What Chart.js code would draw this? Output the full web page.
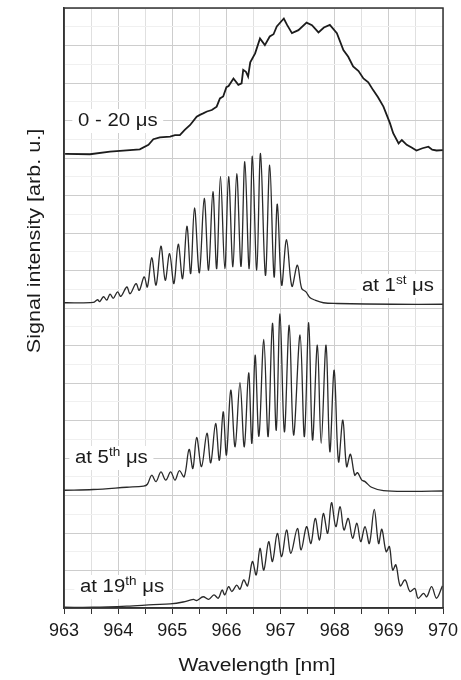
<!DOCTYPE html>
<html>
<head>
<meta charset="utf-8">
<script src="https://cdn.jsdelivr.net/npm/chart.js@4.4.1/dist/chart.umd.min.js"></script>
<style>
  html, body { margin: 0; padding: 0; background: #fff; }
  canvas { display: block; }
</style>
</head>
<body>
<canvas id="spectra" width="461" height="680"></canvas>
<script>
// wavelength [nm] and intensity [arb. u.], one pair of arrays per trace
const wl1 = [963.02, 963.48, 963.85, 964.40, 964.56, 964.65, 964.77, 964.96, 965.05, 965.14, 965.23, 965.33, 965.45, 965.51, 965.57, 965.64, 965.73, 965.82, 965.88, 965.94, 966.00, 966.04, 966.13, 966.22, 966.28, 966.31, 966.36, 966.40, 966.44, 966.53, 966.62, 966.71, 966.80, 966.87, 966.93, 967.06, 967.12, 967.21, 967.33, 967.48, 967.58, 967.70, 967.80, 967.91, 968.04, 968.16, 968.25, 968.34, 968.44, 968.53, 968.62, 968.71, 968.80, 968.90, 969.02, 969.08, 969.18, 969.24, 969.33, 969.42, 969.51, 969.62, 969.73, 969.80, 969.88, 970.00];
const int1 = [0.01, 0.00, 0.07, 0.13, 0.25, 0.40, 0.45, 0.47, 0.51, 0.51, 0.65, 0.78, 1.00, 1.05, 1.09, 1.14, 1.18, 1.27, 1.49, 1.54, 1.79, 1.82, 2.02, 1.85, 1.89, 2.25, 2.20, 2.07, 2.45, 2.69, 3.09, 2.91, 3.14, 3.20, 3.41, 3.62, 3.45, 3.23, 3.31, 3.51, 3.44, 3.25, 3.38, 3.45, 3.23, 2.78, 2.60, 2.34, 2.22, 2.02, 1.92, 1.71, 1.52, 1.27, 0.83, 0.56, 0.29, 0.38, 0.25, 0.18, 0.10, 0.16, 0.20, 0.12, 0.10, 0.11];

const wl2 = [963.00, 963.54, 963.62, 963.66, 963.73, 963.79, 963.85, 963.91, 963.99, 964.05, 964.16, 964.22, 964.33, 964.39, 964.48, 964.54, 964.62, 964.70, 964.79, 964.87, 964.95, 965.03, 965.11, 965.19, 965.27, 965.34, 965.41, 965.50, 965.59, 965.67, 965.75, 965.82, 965.89, 965.97, 966.04, 966.12, 966.19, 966.27, 966.34, 966.42, 966.48, 966.56, 966.63, 966.72, 966.80, 966.88, 966.94, 967.02, 967.11, 967.21, 967.31, 967.39, 967.47, 967.54, 967.62, 967.79, 968.04, 969.08, 970.00];
const int2 = [0.04, 0.05, 0.12, 0.07, 0.20, 0.11, 0.27, 0.16, 0.33, 0.21, 0.46, 0.28, 0.55, 0.37, 0.73, 0.46, 1.24, 0.51, 1.55, 0.64, 1.35, 0.55, 1.60, 0.68, 2.08, 0.82, 2.57, 0.84, 2.82, 0.91, 3.00, 0.95, 3.41, 0.95, 3.40, 1.00, 3.48, 1.01, 3.80, 0.95, 3.95, 0.91, 4.02, 0.77, 3.71, 0.73, 2.67, 0.51, 1.72, 0.48, 1.04, 0.42, 0.33, 0.18, 0.12, 0.04, 0.02, 0.00, 0.00];

const wl3 = [963.00, 963.54, 964.16, 964.47, 964.54, 964.62, 964.70, 964.79, 964.88, 964.97, 965.05, 965.13, 965.22, 965.31, 965.38, 965.45, 965.54, 965.64, 965.71, 965.80, 965.87, 965.94, 966.00, 966.08, 966.16, 966.25, 966.33, 966.41, 966.47, 966.53, 966.60, 966.69, 966.77, 966.85, 966.92, 966.99, 967.07, 967.16, 967.24, 967.36, 967.44, 967.52, 967.59, 967.68, 967.75, 967.84, 967.91, 967.99, 968.07, 968.15, 968.22, 968.29, 968.37, 968.42, 968.50, 968.56, 968.68, 968.90, 969.39, 970.00];
const int3 = [0.04, 0.06, 0.12, 0.15, 0.20, 0.44, 0.27, 0.53, 0.31, 0.53, 0.31, 0.56, 0.40, 1.13, 0.62, 1.45, 0.67, 1.56, 0.77, 1.82, 0.84, 2.13, 0.98, 2.71, 1.20, 2.91, 1.20, 3.17, 1.29, 3.64, 1.48, 4.06, 1.47, 4.49, 1.64, 4.74, 1.60, 4.44, 1.51, 4.18, 1.47, 4.51, 1.38, 3.91, 1.29, 3.91, 1.07, 3.24, 0.80, 1.91, 0.67, 1.00, 0.44, 0.51, 0.31, 0.27, 0.12, 0.03, 0.01, 0.02];

const wl4 = [963.00, 963.54, 964.16, 964.65, 964.96, 965.20, 965.39, 965.45, 965.57, 965.67, 965.77, 965.85, 965.92, 965.97, 966.04, 966.10, 966.19, 966.25, 966.32, 966.39, 966.48, 966.55, 966.62, 966.69, 966.78, 966.85, 966.94, 967.02, 967.11, 967.19, 967.31, 967.38, 967.48, 967.56, 967.64, 967.72, 967.79, 967.87, 967.94, 968.02, 968.10, 968.17, 968.25, 968.33, 968.41, 968.48, 968.56, 968.64, 968.73, 968.81, 968.87, 968.95, 969.01, 969.07, 969.13, 969.21, 969.30, 969.39, 969.48, 969.54, 969.64, 969.70, 969.79, 969.88, 969.99];
const int4 = [0.02, 0.02, 0.05, 0.09, 0.11, 0.16, 0.23, 0.20, 0.30, 0.23, 0.35, 0.26, 0.48, 0.35, 0.57, 0.44, 0.61, 0.50, 0.75, 0.59, 1.24, 0.88, 1.59, 1.01, 1.77, 1.24, 1.99, 1.37, 2.08, 1.46, 2.12, 1.55, 2.17, 1.72, 2.39, 1.81, 2.52, 1.99, 2.81, 2.17, 2.70, 2.08, 2.39, 1.86, 2.26, 1.77, 2.17, 1.72, 2.63, 1.72, 2.10, 1.50, 1.64, 1.01, 1.15, 0.59, 0.75, 0.44, 0.52, 0.26, 0.39, 0.30, 0.57, 0.26, 0.59];

// vertical shift of each trace in the stacked plot
const offsets = [12.1, 8.1, 3.1, 0];

const FONT = '"Liberation Sans", Arial, Helvetica, sans-serif';

function toPoints(wl, vals, off) {
  return wl.map((x, i) => ({ x: x, y: vals[i] + off }));
}

// captions with white boxes, superscripts and the axis titles
const annotate = {
  id: "annotate",
  afterDraw(chart) {
    const ctx = chart.ctx;
    const area = chart.chartArea;
    const sx = 1.13;

    // frame: top and right edges
    ctx.save();
    ctx.strokeStyle = "#333";
    ctx.lineWidth = 1.5;
    ctx.strokeRect(area.left, area.top, area.right - area.left, area.bottom - area.top);
    ctx.restore();

    const captions = [
      { x: 78, y: 126, parts: [["0 - 20 μs", false]] },
      { x: 362, y: 291, parts: [["at 1", false], ["st", true], [" μs", false]] },
      { x: 75, y: 463, parts: [["at 5", false], ["th", true], [" μs", false]] },
      { x: 80, y: 592, parts: [["at 19", false], ["th", true], [" μs", false]] },
    ];

    captions.forEach((c) => {
      ctx.save();
      ctx.translate(c.x, c.y);
      ctx.scale(sx, 1);
      let w = 0;
      c.parts.forEach(([t, sup]) => {
        ctx.font = (sup ? "12px " : "18px ") + FONT;
        w += ctx.measureText(t).width;
      });
      ctx.fillStyle = "#fff";
      ctx.fillRect(-5, -17, w + 10, 24);
      ctx.fillStyle = "#1a1a1a";
      ctx.textBaseline = "alphabetic";
      let cx = 0;
      c.parts.forEach(([t, sup]) => {
        ctx.font = (sup ? "12px " : "18px ") + FONT;
        ctx.fillText(t, cx, sup ? -7 : 0);
        cx += ctx.measureText(t).width;
      });
      ctx.restore();
    });

    // axis titles
    ctx.save();
    ctx.fillStyle = "#1a1a1a";
    ctx.font = "18px " + FONT;
    ctx.textAlign = "center";
    ctx.textBaseline = "alphabetic";
    ctx.save();
    ctx.translate(257, 671);
    ctx.scale(1.17, 1);
    ctx.fillText("Wavelength [nm]", 0, 0);
    ctx.restore();
    ctx.translate(40, 241);
    ctx.rotate(-Math.PI / 2);
    ctx.scale(1.2, 1);
    ctx.fillText("Signal intensity [arb. u.]", 0, 0);
    ctx.restore();
  },
};

new Chart(document.getElementById("spectra"), {
  type: "line",
  data: {
    datasets: [
      { data: toPoints(wl1, int1, offsets[0]), borderColor: "#1c1c1c", borderWidth: 1.8, tension: 0 },
      { data: toPoints(wl2, int2, offsets[1]), borderColor: "#2a2a2a", borderWidth: 1.3, tension: 0.35 },
      { data: toPoints(wl3, int3, offsets[2]), borderColor: "#2a2a2a", borderWidth: 1.3, tension: 0.35 },
      { data: toPoints(wl4, int4, offsets[3]), borderColor: "#2a2a2a", borderWidth: 1.3, tension: 0.35 },
    ],
  },
  options: {
    responsive: false,
    animation: false,
    layout: { padding: { top: 8, right: 18, left: 0, bottom: 0 } },
    elements: { point: { radius: 0 } },
    plugins: { legend: { display: false }, tooltip: { enabled: false } },
    scales: {
      x: {
        type: "linear",
        min: 963,
        max: 970,
        ticks: {
          stepSize: 0.5,
          autoSkip: false,
          maxRotation: 0,
          padding: 1,
          color: "#1a1a1a",
          font: { family: FONT, size: 18, lineHeight: 1.75 },
          callback: (v) => (Number.isInteger(v) ? String(v) : ""),
        },
        grid: {
          color: (c) => (Number.isInteger(c.tick.value) ? "#cdcdcd" : "#e0e0e0"),
          tickColor: "#333",
          tickLength: 6,
        },
        border: { color: "#333", width: 1.5 },
        afterFit: (s) => { s.height = 72; },
      },
      y: {
        min: 0,
        max: 16,
        ticks: { stepSize: 0.5, display: false },
        grid: {
          color: (c) => (Number.isInteger(c.tick.value) ? "#cdcdcd" : "#f0f0f0"),
          drawTicks: false,
        },
        border: { color: "#333", width: 1.5 },
        afterFit: (s) => { s.width = 64; },
      },
    },
  },
  plugins: [annotate],
});
</script>
</body>
</html>
